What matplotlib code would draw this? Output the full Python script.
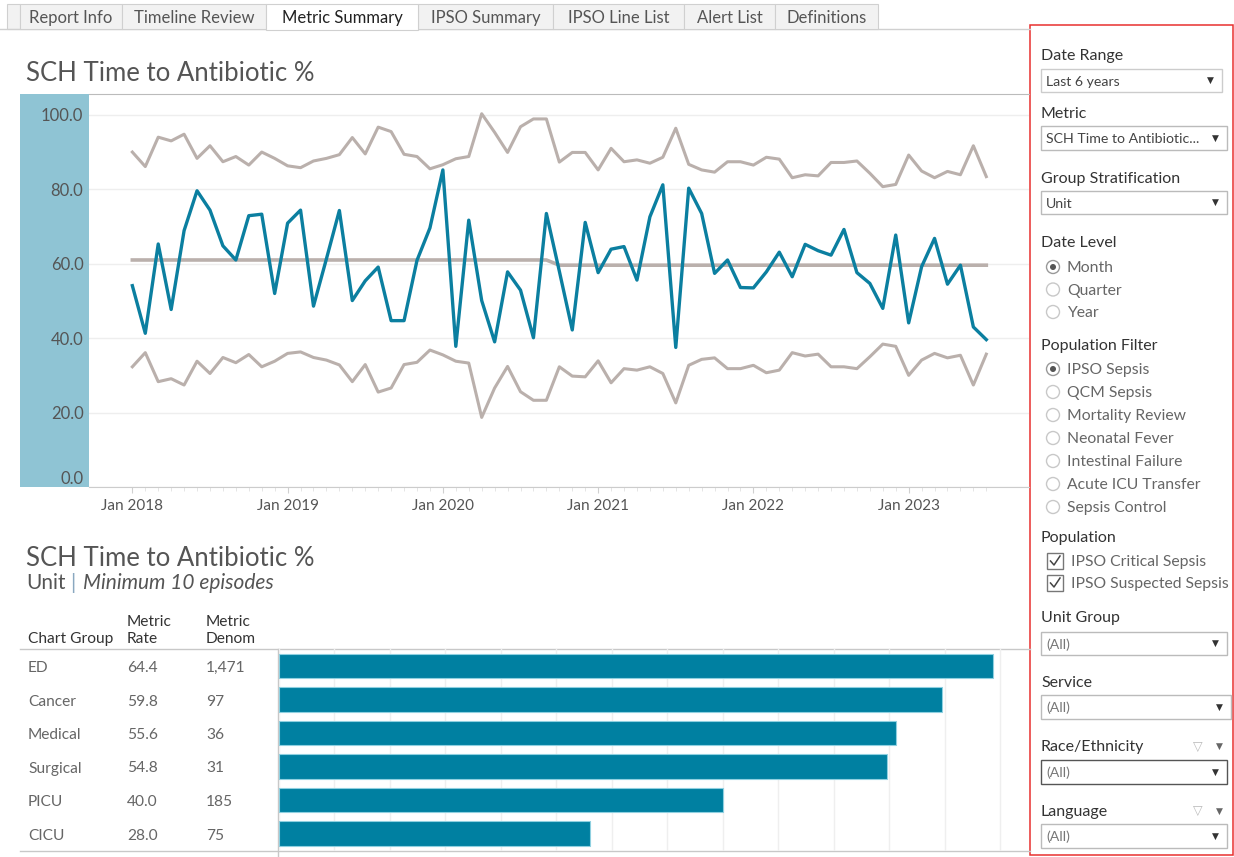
"""SCH Time to Antibiotic % - metric summary dashboard"""

import matplotlib
matplotlib.use('Agg')
import matplotlib.pyplot as plt
from matplotlib.patches import Rectangle, Circle

plt.rcParams['font.family'] = ['Lato', 'DejaVu Sans']

W, H = 1234, 857

# ---- data: monthly control chart, Jan 2018 .. Jul 2023 ----
month_idx = list(range(67))
year_ticks = [0, 12, 24, 36, 48, 60]
year_labels = ['Jan 2018', 'Jan 2019', 'Jan 2020', 'Jan 2021', 'Jan 2022', 'Jan 2023']

rate = [54.1, 41.3, 65.3, 47.7, 68.9, 79.6, 74.4, 64.8, 61.0, 72.9,
        73.3, 52.0, 70.9, 74.4, 48.6, 61.3, 74.3, 50.1, 55.4, 59.1,
        44.7, 44.7, 60.9, 69.6, 85.2, 37.8, 71.7, 50.1, 39.0, 57.8,
        52.9, 40.1, 73.5, 58.0, 42.2, 71.1, 57.6, 63.9, 64.6, 55.6,
        72.6, 81.2, 37.5, 80.3, 73.5, 57.4, 61.0, 53.6, 53.5, 57.8,
        63.1, 56.5, 65.2, 63.5, 62.3, 69.2, 57.6, 54.7, 48.0, 67.7,
        44.1, 59.2, 66.8, 54.5, 59.6, 43.0, 39.6]

ucl = [90.0, 86.1, 94.0, 93.0, 94.8, 88.3, 91.7, 87.4, 88.8, 86.5,
       90.0, 88.3, 86.3, 85.8, 87.6, 88.3, 89.3, 93.9, 89.5, 96.7,
       95.5, 89.4, 88.8, 85.5, 86.6, 88.2, 88.8, 100.3, 95.3, 89.9,
       96.8, 98.9, 98.9, 87.3, 89.9, 89.9, 85.2, 91.0, 87.4, 87.9,
       87.0, 88.6, 96.4, 86.7, 85.2, 84.6, 87.4, 87.4, 86.5, 88.6,
       88.1, 83.1, 83.9, 83.6, 87.2, 87.2, 87.6, 84.3, 80.7, 81.3,
       89.2, 84.9, 83.1, 84.8, 83.9, 91.7, 83.4]

lcl = [32.3, 36.1, 28.3, 29.1, 27.4, 33.8, 30.5, 34.8, 33.4, 35.6,
       32.3, 33.8, 35.9, 36.3, 34.8, 34.1, 32.8, 28.3, 32.9, 25.5,
       26.6, 32.9, 33.5, 36.8, 35.5, 33.8, 33.3, 18.7, 26.6, 32.4,
       25.6, 23.3, 23.3, 32.3, 29.8, 29.6, 33.9, 28.0, 31.8, 31.4,
       32.3, 30.5, 22.6, 32.7, 34.3, 34.7, 31.8, 31.8, 32.7, 30.7,
       31.4, 36.1, 35.2, 35.7, 32.3, 32.3, 31.8, 35.0, 38.4, 37.8,
       30.0, 34.1, 35.9, 34.7, 35.4, 27.4, 35.7]

center = [61.0] * 33 + [59.6] * 34

# ---- data: by unit ----
groups = ['ED', 'Cancer', 'Medical', 'Surgical', 'PICU', 'CICU']
group_rate = [64.4, 59.8, 55.6, 54.8, 40.0, 28.0]
group_denom = [1471, 97, 36, 31, 185, 75]

# ---- filter panel contents ----
tabs = ['Report Info', 'Timeline Review', 'Metric Summary', 'IPSO Summary',
        'IPSO Line List', 'Alert List', 'Definitions']
tab_edges = [20, 122, 266, 418, 553, 684, 775, 878]
date_levels = ['Month', 'Quarter', 'Year']
pop_filters = ['IPSO Sepsis', 'QCM Sepsis', 'Mortality Review', 'Neonatal Fever',
               'Intestinal Failure', 'Acute ICU Transfer', 'Sepsis Control']
populations = ['IPSO Critical Sepsis', 'IPSO Suspected Sepsis']

BLUE = '#0b7fa0'
GREY_LINE = '#bab0ac'
TXT = '#333333'
TXT2 = '#666666'


def ax_rect(l, t, r, b):
    return [l / W, 1 - b / H, (r - l) / W, (b - t) / H]


fig = plt.figure(figsize=(W / 100, H / 100), dpi=100)
bg = fig.add_axes([0, 0, 1, 1])
bg.set_xlim(0, W)
bg.set_ylim(H, 0)
bg.axis('off')


def txt(x, y, s, **kw):
    # small nudge: Lato's bbox centre sits a bit above the visual centre
    kw.setdefault('va', 'center')
    return bg.text(x, y + 2, s, **kw)


# tabs
bg.plot([0, 1030], [29, 29], color='#d0d0d0', lw=1)
bg.add_patch(Rectangle((7, 4), 13, 25, fc='#f2f2f2', ec='#d0d0d0', lw=0.8))
for k, name in enumerate(tabs):
    l, r = tab_edges[k], tab_edges[k + 1]
    sel = name == 'Metric Summary'
    bg.add_patch(Rectangle((l, 4), r - l, 25 + (1 if sel else 0),
                           fc='white' if sel else '#f2f2f2', ec='#d0d0d0', lw=0.8,
                           zorder=3 if sel else 2))
    txt((l + r) / 2, 15.5, name, ha='center', fontsize=12,
        color='#222222' if sel else '#555555', zorder=4)

# titles
txt(26, 71, 'SCH Time to Antibiotic %', fontsize=18.5, color='#555555')
txt(26, 557, 'SCH Time to Antibiotic %', fontsize=18.5, color='#555555')
txt(26, 581, 'Unit', fontsize=15, color='#555555')
txt(70, 581, '|', fontsize=15, color='#8aa8c0')
txt(83, 581, 'Minimum 10 episodes', fontsize=15, color='#555555', style='italic')

# axis band behind y labels
bg.add_patch(Rectangle((20, 94), 69, 393, fc='#8fc4d4', ec='none'))

# ---- control chart ----
ax = fig.add_axes(ax_rect(89, 94, 1029, 487))
ax.patch.set_alpha(0)
ax.plot(month_idx, ucl, color=GREY_LINE, lw=2.2, zorder=2)
ax.plot(month_idx, lcl, color=GREY_LINE, lw=2.2, zorder=2)
ax.plot(month_idx, center, color=GREY_LINE, lw=2.6, zorder=2)
ax.plot(month_idx, rate, color=BLUE, lw=2.4, zorder=3)
ax.set_ylim(0, 105.6)
ax.set_xlim(-3.35, 69.3)
ax.set_yticks([0, 20, 40, 60, 80, 100])
ylabs = ax.set_yticklabels(['0.0', '20.0', '40.0', '60.0', '80.0', '100.0'])
ylabs[0].set_va('bottom')
ax.set_xticks(year_ticks)
ax.set_xticklabels(year_labels)
ax.set_xticks(month_idx, minor=True)
ax.tick_params(axis='y', length=0, pad=4, labelsize=12, labelcolor='#555555')
ax.tick_params(axis='x', which='major', length=4, color='#d0d0d0', pad=5,
               labelsize=11, labelcolor='#555555')
ax.tick_params(axis='x', which='minor', length=3, color='#e0e0e0')
ax.yaxis.grid(True, color='#eeeeee', lw=1)
ax.set_axisbelow(True)
for s in ['left', 'right']:
    ax.spines[s].set_visible(False)
ax.spines['top'].set_color('#bbbbbb')
ax.spines['bottom'].set_color('#cccccc')

# ---- unit table + bars ----
txt(28, 637, 'Chart Group', fontsize=11.2, color=TXT)
txt(127, 620, 'Metric', fontsize=11.2, color=TXT)
txt(127, 637, 'Rate', fontsize=11.2, color=TXT)
txt(206, 620, 'Metric', fontsize=11.2, color=TXT)
txt(206, 637, 'Denom', fontsize=11.2, color=TXT)
bg.plot([20, 1030], [649, 649], color='#c8c8c8', lw=1)
bg.plot([20, 1030], [851, 851], color='#c8c8c8', lw=1)
bg.plot([278, 278], [649, 857], color='#c8c8c8', lw=1)
for k, g in enumerate(groups):
    y = 666 + 33.5 * k
    txt(28, y, g, fontsize=11.2, color=TXT2)
    txt(127, y, f'{group_rate[k]:.1f}', fontsize=11.2, color=TXT2)
    txt(206, y, f'{group_denom[k]:,}', fontsize=11.2, color=TXT2)

bx = fig.add_axes(ax_rect(279, 649, 1030, 850.5))
bx.patch.set_alpha(0)
bx.barh(range(len(groups)), group_rate, height=0.73, color='#0080a1',
        edgecolor='#8fd0e0', lw=0.8, zorder=3)
bx.set_xlim(0, 67.7)
bx.set_ylim(5.5, -0.5)
bx.set_xticks(range(0, 70, 5))
bx.set_yticks([])
bx.tick_params(axis='x', length=0, labelbottom=False)
bx.xaxis.grid(True, color='#efefef', lw=1)
bx.set_axisbelow(True)
for s in bx.spines.values():
    s.set_visible(False)

# ---- filter panel ----
bg.add_patch(Rectangle((1030, 25), 203, 830, fill=False, ec='#e8302f', lw=1.1))

for label, y in [('Date Range', 55), ('Metric', 113), ('Group Stratification', 178),
                 ('Date Level', 242), ('Population Filter', 345), ('Population', 537),
                 ('Unit Group', 617), ('Service', 682), ('Race/Ethnicity', 746),
                 ('Language', 811)]:
    txt(1041, y - 1, label, fontsize=11.5, color=TXT)

for s, top, bot, right, ec, col in [
        ('Last 6 years', 69, 92, 1222, '#cccccc', '#444444'),
        ('SCH Time to Antibiotic...', 126, 150, 1227, '#bbbbbb', '#444444'),
        ('Unit', 191, 214, 1227, '#bbbbbb', '#444444'),
        ('(All)', 632, 655, 1227, '#bbbbbb', '#777777'),
        ('(All)', 695, 719, 1231, '#bbbbbb', '#777777'),
        ('(All)', 760, 784, 1227, '#555555', '#777777'),
        ('(All)', 824, 848, 1227, '#bbbbbb', '#777777')]:
    bg.add_patch(Rectangle((1041, top), right - 1041, bot - top, fc='white', ec=ec, lw=1))
    txt(1046, (top + bot) / 2 - 1, s, fontsize=10.2, color=col)
    bg.text(right - 12, (top + bot) / 2, '\u25bc', fontsize=6.5, color='#333333',
            ha='center', va='center', family=['DejaVu Sans'])

for y in [746, 811]:
    bg.text(1198, y, '\u25bd', fontsize=9, color='#bbbbbb', ha='center', va='center',
            family=['DejaVu Sans'])
    bg.text(1219, y, '\u25bc', fontsize=6.5, color='#666666', ha='center', va='center',
            family=['DejaVu Sans'])


def radio(y, label, selected):
    bg.add_patch(Circle((1053, y), 6.5, fc='white', ec='#999999' if selected else '#c8c8c8',
                        lw=1))
    if selected:
        bg.add_patch(Circle((1053, y), 3, fc='#555555', ec='none'))
    txt(1067, y - 1, label, fontsize=11.3, color=TXT2)


for k, lv in enumerate(date_levels):
    radio(267 + 22.5 * k, lv, k == 0)
for k, pf in enumerate(pop_filters):
    radio(369 + 23 * k, pf, k == 0)

for k, p in enumerate(populations):
    y = 561 + 22 * k
    bg.add_patch(Rectangle((1047, y - 8), 16, 16, fc='white', ec='#777777', lw=1))
    bg.plot([1050.5, 1054, 1060], [y, y + 4, y - 5], color='#444444', lw=1.1)
    txt(1071, y - 1, p, fontsize=11.3, color=TXT2)

fig.savefig('out.png', dpi=100)
